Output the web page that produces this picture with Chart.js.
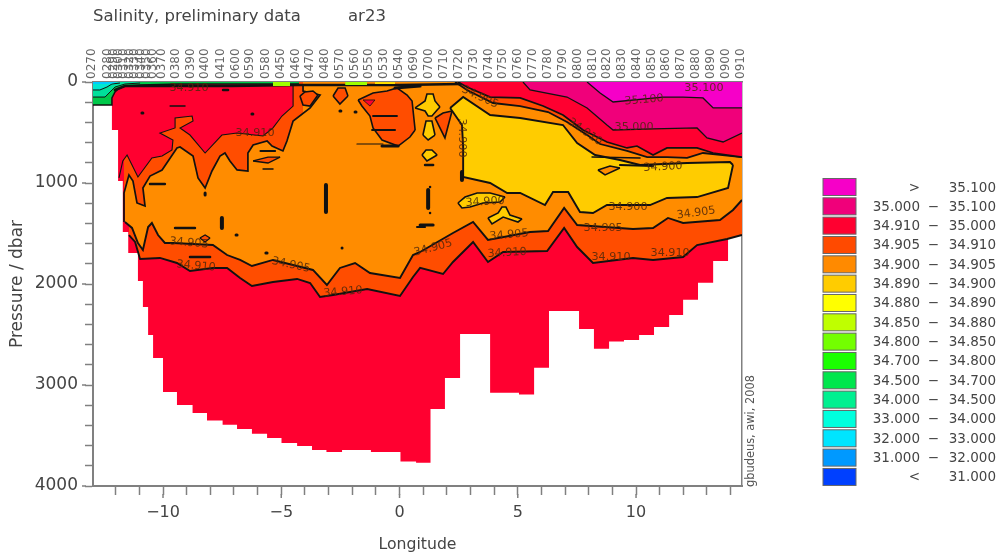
<!DOCTYPE html>
<html><head><meta charset="utf-8">
<style>html,body{margin:0;padding:0;background:#fff}#w{width:999px;height:554px}canvas{filter:blur(.45px)}</style>
<script src="https://cdn.jsdelivr.net/npm/chart.js@4/dist/chart.umd.min.js"></script>
</head><body><div id="w"><canvas id="c"></canvas></div>
<script>
// Station labels along the top axis
const stationIds=['0270','0280','0290','0300','0310','0320','0330','0340','0350','0360','0370','0380','0390','0400','0410','0600','0590','0580','0450','0460','0470','0480','0570','0560','0550','0530','0540','0690','0700','0710','0720','0730','0740','0750','0760','0770','0780','0790','0800','0810','0820','0830','0840','0850','0860','0870','0880','0890','0900','0910'];
const stationLon=[-12.96,-12.28,-12.03,-11.82,-11.61,-11.35,-11.14,-10.89,-10.63,-10.38,-10.00,-9.41,-8.77,-8.18,-7.51,-6.87,-6.28,-5.60,-4.97,-4.33,-3.74,-3.11,-2.47,-1.84,-1.25,-0.61,0.02,0.66,1.29,1.92,2.56,3.19,3.83,4.42,5.05,5.69,6.32,6.96,7.59,8.22,8.82,9.45,10.08,10.72,11.31,11.94,12.58,13.21,13.85,14.48];
// Sea floor (stepped)
const bottomLon=[-12.96,-12.16,-11.90,-11.70,-11.47,-11.06,-10.85,-10.63,-10.42,-10.00,-9.41,-8.75,-8.14,-7.48,-6.87,-6.24,-5.60,-4.99,-4.33,-3.70,-3.09,-2.43,-1.21,0.04,0.70,1.31,1.92,2.56,3.83,5.05,5.69,6.32,7.59,8.22,8.86,9.49,10.13,10.76,11.40,11.99,12.62,13.26,13.89,14.48];
const bottomP=[228,475,980,1485,1693,1970,2228,2505,2732,3069,3198,3277,3351,3393,3435,3482,3524,3574,3604,3643,3663,3643,3663,3757,3769,3237,2930,2495,3076,3094,2828,2267,2445,2640,2569,2554,2505,2425,2307,2156,1987,1772,1400,1400];
// 34.910 lower isoline
const iso910Lon=[-11.44,-11.18,-10.97,-10.13,-9.41,-8.86,-7.89,-7.29,-6.74,-6.24,-5.35,-4.33,-3.78,-3.36,-2.81,-1.37,0.02,0.57,0.87,1.84,2.26,3.11,3.74,4.38,6.24,6.96,7.51,8.18,9.87,10.72,11.99,12.58,13.85,14.48];
const iso910P=[1515,1584,1752,1742,1792,1871,1841,1841,1940,2020,1980,1950,1990,2129,2109,2049,2119,1931,1841,1901,1782,1584,1782,1683,1673,1445,1634,1792,1742,1762,1733,1614,1554,1515];
// 34.905 lower isoline
const iso905Lon=[-11.61,-11.31,-11.06,-10.85,-10.63,-10.47,-10.21,-9.92,-9.58,-7.89,-7.29,-6.74,-6.24,-5.35,-4.50,-3.66,-3.07,-2.52,-1.88,-1.25,0.02,0.57,0.87,2.26,3.11,3.74,5.52,6.28,6.96,7.51,9.87,10.72,11.35,11.99,13.55,14.10,14.48];
const iso905P=[1386,1445,1594,1663,1436,1396,1515,1594,1594,1614,1713,1762,1822,1762,1812,1861,2010,1841,1792,1891,1940,1713,1683,1495,1386,1564,1485,1475,1247,1416,1455,1445,1346,1396,1366,1267,1168];
// Upper-left dark orange and red patches
const leftOrangeLon=[-11.65,-11.65,-11.44,-11.27,-11.10,-10.76,-10.85,-10.55,-10.04,-9.41,-9.28,-8.73,-8.52,-8.22,-7.93,-7.59,-7.38,-7.17,-6.87,-6.41,-6.41,-6.19,-5.60,-5.39,-4.93,-4.76,-4.50,-3.78,-3.36,-4.08,-4.08];
const leftOrangeP=[1386,1099,921,980,1198,1228,1049,931,871,653,644,733,950,1049,881,733,703,782,871,881,703,624,584,634,683,584,386,257,129,89,20];
const leftRedLon=[-11.86,-11.70,-11.52,-11.06,-10.47,-10.04,-9.62,-9.58,-10.13,-9.49,-9.49,-8.77,-8.73,-9.28,-8.86,-8.22,-7.51,-6.87,-5.77,-5.35,-4.97,-4.50,-4.50,-4.50];
const leftRedP=[950,782,723,941,752,733,673,574,505,455,356,337,386,455,525,703,525,505,535,455,337,238,79,0];
// Right-hand upper bands
const bandOrangeLon=[2.35,2.85,3.95,5.10,6.28,7.08,7.93,8.48,9.62,10.47,11.31,12.16,12.83,14.48];
const bandOrangeP=[0,79,208,238,297,396,525,614,683,743,743,752,703,743];
const bandRedLon=[2.47,2.85,3.83,5.10,6.07,6.91,7.76,8.77,9.62,10.04,10.72,11.31,12.58,13.26,14.48];
const bandRedP=[0,50,149,158,238,327,475,594,653,634,723,653,653,703,743];
const iso35000Lon=[5.22,5.52,7.08,7.93,8.77,9.03,10.72,12.58,13.00,13.68,14.48];
const iso35000P=[0,79,149,257,426,475,465,455,554,594,505];
const iso35100Lon=[7.93,8.48,9.03,11.14,11.99,12.83,13.26,14.48];
const iso35100P=[0,109,198,149,149,158,257,257];
// Yellow body
const bodyUpLon=[2.14,2.69,3.83,5.10,6.91,7.51,8.27,9.32,10.17,12.16,13.97,14.10];
const bodyUpP=[257,149,327,356,426,604,723,772,822,802,792,822];
const bodyLoLon=[2.14,2.64,2.69,2.69,3.83,4.55,5.10,6.15,6.49,7.13,7.63,8.18,8.77,10.59,11.31,12.58,13.89,14.10];
const bodyLoP=[257,426,644,941,1000,1099,1099,1218,1089,1089,1287,1297,1218,1218,1148,1139,1049,822];
// Surface wedge at the left
const wedgeGreenLon=[-12.96,-12.16,-12.16,-12.03,-11.90,-11.61,-10.97,-9.36,-7.16,-4.25];
const wedgeGreenP=[228,228,158,99,69,40,30,20,20,20];
const wedgeSeaLon=[-12.96,-12.45,-12.24,-12.03,-11.61,-10.97];
const wedgeSeaP=[149,149,99,50,20,10];
const wedgeTealLon=[-12.96,-12.67,-12.37,-12.16,-11.82];
const wedgeTealP=[79,79,50,20,10];
const wedgeSkyLon=[-12.96,-12.45,-12.03];
const wedgeSkyP=[20,20,10];
const surfaceLon=[-12.03,-11.61,-9.36,-7.16,-4.25,-2.52,0.02,2.56];
const surfaceP=[79,40,40,40,30,30,30,20];
const limeALon=[-5.35,-4.63],limeAP=[40,40];
const limeBLon=[-2.30,-1.37],limeBP=[30,30];
const goldLon=[-1.04,-0.19],goldP=[20,20];
// Islands: upper and lower edges
const p1UpLon=[-4.21,-4.00,-3.66,-3.45],p1UpP=[139,99,89,129],p1LoLon=[-4.21,-4.08,-3.78,-3.45],p1LoP=[139,228,238,129];
const p2UpLon=[-2.81,-2.60,-2.30,-2.18],p2UpP=[139,59,59,139],p2LoLon=[-2.81,-2.52,-2.18],p2LoP=[139,218,139];
const blobUpLon=[-1.75,-1.12,-0.53,-0.11,0.32,0.53,0.66],blobUpP=[178,109,89,59,129,188,475];
const blobLoLon=[-1.75,-1.59,-1.25,-1.12,-0.74,-0.06,0.44,0.66],blobLoP=[178,238,337,455,574,634,545,475];
const blobRedUpLon=[-1.54,-1.04],blobRedUpP=[178,178],blobRedLoLon=[-1.54,-1.25,-1.04],blobRedLoP=[178,238,178];
const lensUpLon=[-6.19,-5.56,-5.05],lensUpP=[782,743,743],lensLoLon=[-6.19,-5.56,-5.05],lensLoP=[782,802,743];
const ringUpLon=[-8.44,-8.22,-8.01],ringUpP=[1544,1515,1544],ringLoLon=[-8.44,-8.22,-8.01],ringLoP=[1544,1584,1544];
const y1UpLon=[0.66,1.08,1.16,1.42,1.50,1.71],y1UpP=[257,188,119,119,188,248],y1LoLon=[0.66,1.08,1.21,1.37,1.59,1.71],y1LoP=[257,287,337,337,277,248];
const y2UpLon=[0.99,1.12,1.37,1.50],y2UpP=[525,386,386,525],y2LoLon=[0.99,1.21,1.50],y2LoP=[525,574,525];
const y3UpLon=[0.95,1.12,1.37,1.59],y3UpP=[723,673,673,723],y3LoLon=[0.95,1.16,1.59],y3LoP=[723,782,723];
const coneUpLon=[1.50,1.84,2.22],coneUpP=[356,307,287],coneLoLon=[1.50,1.92,2.22],coneLoP=[356,554,287];
const y4UpLon=[2.47,2.77,3.28,3.83,4.46],y4UpP=[1198,1139,1099,1099,1139],y4LoLon=[2.47,2.64,2.98,3.53,4.25,4.46],y4LoP=[1198,1247,1238,1198,1188,1139];
const y5UpLon=[3.74,4.17,4.33,4.50,4.67,5.18],y5UpP=[1346,1297,1238,1238,1317,1356],y5LoLon=[3.74,3.91,4.38,5.01,5.18],y5LoP=[1346,1406,1337,1386,1356];
const o1UpLon=[8.39,8.90,9.32],o1UpP=[871,832,852],o1LoLon=[8.39,8.69,9.32],o1LoP=[871,920,852];
// Short black contour fragments
const dashLonA=[-9.49,-8.86,-7.51,-6.91,-5.65,-2.43,0.74,-3.11,-10.89,-6.24,-9.70,-7.46,-1.88,-1.12,-1.16,-0.74,-1.80,1.21,0.87,1.29,1.29,8.14,9.32,-2.52,2.64,1.08,-0.19,-10.55,-8.22,-5.88,-5.77];
const dashPA=[1445,1733,1346,1515,1693,1643,1436,1020,307,317,238,79,297,337,475,634,614,1069,1416,1040,1297,743,822,287,891,822,59,1010,1099,683,861];
const dashLonB=[-8.65,-8.01,-7.51,-6.87,-5.60,-2.39,1.08,-3.11,-10.85,-6.20,-9.07,-7.25,-1.84,-0.11,-0.19,-0.06,-0.70,1.21,1.42,1.33,1.33,10.17,10.72,-2.48,2.64,1.42,0.87,-9.92,-8.22,-5.26,-5.35];
const dashPB=[1445,1733,1445,1515,1693,1643,1436,1287,307,317,238,79,297,337,475,634,614,1247,1416,1040,1297,752,832,287,970,822,40,1010,1119,683,861];
const dashW=[2.5,2.5,4,3,3,3,2,4,3,3,1.5,2.5,3,2,2,3,1.2,4,3,2.5,2.5,1.5,2,3,4,2.5,3,2.5,3,2,1.5];
// Contour labels
const labelText=['34.910','34.910','34.910','34.905','34.910','34.905','34.910','34.905','34.905','34.905','34.910','34.910','34.905','34.900','34.900','34.900','34.900','34.905','34.910','35.000','35.100','35.100'];
const labelLon=[-8.90,-6.11,-8.60,-4.59,-2.39,1.42,4.55,4.63,8.61,-8.90,8.94,11.44,12.54,9.66,11.14,2.64,3.62,3.40,7.84,9.92,10.34,12.87];
const labelP=[59,505,1822,1812,2079,1643,1693,1515,1445,1594,1733,1693,1297,1238,842,554,1188,149,495,446,178,59];
const labelRot=[0,0,5,12,-5,-15,-3,-5,0,5,0,0,-8,0,-3,90,-3,25,35,0,-5,0];
// Legend
const legendColors=['#f600c8','#f0007a','#ff0030','#ff4a00','#ff8a00','#ffcc00','#ffff00','#bfff00','#73ff00','#1aff00','#00e64d','#00f090','#00ffdd','#00e5ff','#0099ff','#0040ff'];
const legendLow=['>','35.000','34.910','34.905','34.900','34.890','34.880','34.850','34.800','34.700','34.500','34.000','33.000','32.000','31.000','<'];
const legendHigh=['35.100','35.100','35.000','34.910','34.905','34.900','34.890','34.880','34.850','34.800','34.700','34.500','34.000','33.000','32.000','31.000'];

const RED='#ff0030',DKO='#ff4d00',ORG='#ff8c00',YEL='#ffcc00',PNK='#f0007a',MAG='#f600c8';
const pts=(xs,ys)=>xs.map((x,i)=>({x,y:ys[i]}));
const datasets=[];
const base=()=>({showLine:true,pointRadius:0,pointHoverRadius:0,tension:0,xAxisID:'x',yAxisID:'y',order:10000-datasets.length});
function toTop(xs,ys,color,w=1.7,extra={}){datasets.push({...base(),data:pts(xs,ys),fill:'end',backgroundColor:color,borderColor:w?'#111':'transparent',borderWidth:w,...extra});}
function between(ux,uy,lx,ly,color,w=1.6){
  datasets.push({...base(),data:pts(ux,uy),fill:'+1',backgroundColor:color,borderColor:'#111',borderWidth:w});
  datasets.push({...base(),data:pts(lx,ly),fill:false,borderColor:'#111',borderWidth:w});
}
function stroke(xs,ys,w){datasets.push({...base(),data:pts(xs,ys),fill:false,borderColor:'#111',borderWidth:w,borderCapStyle:'round'});}

toTop(bottomLon,bottomP,RED,0,{stepped:'before'});
toTop(iso910Lon,iso910P,DKO,1.9);
toTop(iso905Lon,iso905P,ORG,1.9);
toTop(leftOrangeLon,leftOrangeP,DKO,1.7);
toTop(leftRedLon,leftRedP,RED,1.1);
toTop(bandOrangeLon,bandOrangeP,DKO,1.8);
between(bodyUpLon,bodyUpP,bodyLoLon,bodyLoP,YEL,1.9);
toTop(bandRedLon,bandRedP,RED,1.7);
toTop(iso35000Lon,iso35000P,PNK,1.3);
toTop(iso35100Lon,iso35100P,MAG,1.3);
between(p1UpLon,p1UpP,p1LoLon,p1LoP,DKO);
between(p2UpLon,p2UpP,p2LoLon,p2LoP,DKO);
between(blobUpLon,blobUpP,blobLoLon,blobLoP,DKO);
between(blobRedUpLon,blobRedUpP,blobRedLoLon,blobRedLoP,RED,.8);
between(lensUpLon,lensUpP,lensLoLon,lensLoP,DKO,1.3);
between(ringUpLon,ringUpP,ringLoLon,ringLoP,DKO,1.3);
between(y1UpLon,y1UpP,y1LoLon,y1LoP,YEL);
between(y2UpLon,y2UpP,y2LoLon,y2LoP,YEL);
between(y3UpLon,y3UpP,y3LoLon,y3LoP,YEL);
between(coneUpLon,coneUpP,coneLoLon,coneLoP,DKO);
between(y4UpLon,y4UpP,y4LoLon,y4LoP,YEL);
between(y5UpLon,y5UpP,y5LoLon,y5LoP,YEL);
between(o1UpLon,o1UpP,o1LoLon,o1LoP,ORG);
dashLonA.forEach((x,i)=>stroke([x,dashLonB[i]],[dashPA[i],dashPB[i]],dashW[i]));
toTop(wedgeGreenLon,wedgeGreenP,'#00c84a',1.5);
toTop(wedgeSeaLon,wedgeSeaP,'#00e09a',1);
toTop(wedgeTealLon,wedgeTealP,'#00e8d0',1);
toTop(wedgeSkyLon,wedgeSkyP,'#00ccff',0);
stroke(surfaceLon,surfaceP,2.6);
toTop(limeALon,limeAP,'#9fff00',0);
toTop(limeBLon,limeBP,'#9fff00',0);
toTop(goldLon,goldP,'#ffdd00',0);

const AXIS='#808080',TXT='#444';
const FONT='"DejaVu Sans"';
const decor={id:'decor',afterDraw(ch){
  const c=ch.ctx,X=ch.scales.x,Y=ch.scales.y;
  c.save();
  c.strokeStyle=AXIS;c.lineWidth=1.5;
  for(let v=0;v<=4000;v+=1000){const p=Y.getPixelForValue(v);c.beginPath();c.moveTo(82,p);c.lineTo(86,p);c.stroke();}
  for(let v=-10;v<=10;v+=5){const p=X.getPixelForValue(v);c.beginPath();c.moveTo(p,494);c.lineTo(p,498);c.stroke();}
  c.fillStyle='rgba(80,40,10,.85)';c.font='11.2px '+FONT;c.textAlign='center';c.textBaseline='middle';
  labelText.forEach((t,i)=>{c.save();c.translate(X.getPixelForValue(labelLon[i]),Y.getPixelForValue(labelP[i]));c.rotate(labelRot[i]*Math.PI/180);c.fillText(t,0,0);c.restore();});
  c.fillStyle=TXT;c.textAlign='left';c.font='16.5px '+FONT;
  c.fillText('Salinity, preliminary data',93,17);c.fillText('ar23',348,17);
  c.save();c.translate(751,487);c.rotate(-Math.PI/2);c.font='11.4px '+FONT;c.fillStyle='#555';c.textAlign='left';c.fillText('gbudeus, awi, 2008',0,0);c.restore();
  c.font='13.5px '+FONT;
  legendColors.forEach((col,i)=>{
    const top=178.5+i*19.33;
    c.fillStyle=col;c.fillRect(823,top,33,17);
    c.strokeStyle='#666';c.lineWidth=1;c.strokeRect(823,top,33,17);
    c.fillStyle=TXT;c.textAlign='right';
    const cy=top+9.5;
    if(legendLow[i]==='>'||legendLow[i]==='<'){c.fillText(legendLow[i],920,cy);}
    else{c.fillText(legendLow[i],920,cy);c.fillText('−',939,cy);}
    c.fillText(legendHigh[i],996,cy);
  });
  c.restore();
}};
new Chart(document.getElementById('c'),{type:'scatter',data:{datasets},plugins:[decor],options:{
  responsive:true,maintainAspectRatio:false,animation:false,events:[],
  layout:{padding:0},
  plugins:{legend:{display:false},tooltip:{enabled:false},title:{display:false}},
  scales:{
    x:{type:'linear',position:'bottom',min:-12.96,max:14.48,afterFit:s=>{s.height=68;},
      border:{color:AXIS,width:2},grid:{drawOnChartArea:false,color:AXIS,tickColor:AXIS,tickLength:9,tickWidth:1.5},
      ticks:{stepSize:1,includeBounds:false,autoSkip:false,maxRotation:0,minRotation:0,color:TXT,font:{family:'DejaVu Sans',size:16},padding:8,
        callback:v=>(v%5===0?String(v).replace('-','−'):'')},
      title:{display:true,text:'Longitude',color:TXT,font:{family:'DejaVu Sans',size:15.7},padding:{top:0,bottom:0}}},
    xt:{type:'linear',position:'top',min:-12.96,max:14.48,afterFit:s=>{s.height=82;},
      afterBuildTicks:a=>{a.ticks=stationLon.map(value=>({value}));},
      border:{color:AXIS,width:1.5},grid:{drawOnChartArea:false,drawTicks:false},
      ticks:{autoSkip:false,minRotation:90,maxRotation:90,color:'#666',font:{family:'DejaVu Sans',size:12},padding:3,labelOffset:13.5,
        callback:(v,i)=>stationIds[i]}},
    y:{type:'linear',position:'left',reverse:true,min:0,max:4000,afterFit:s=>{s.width=93;},
      border:{color:AXIS,width:2},grid:{drawOnChartArea:false,tickColor:AXIS,tickLength:8,tickWidth:1.5},
      ticks:{stepSize:200,autoSkip:false,color:TXT,font:{family:'DejaVu Sans',size:17},padding:7,
        callback:v=>(v%1000===0?String(v):'')},
      title:{display:true,text:'Pressure / dbar',color:TXT,font:{family:'DejaVu Sans',size:17},padding:{top:7,bottom:0}}},
    yr:{type:'linear',position:'right',min:0,max:4000,afterFit:s=>{s.width=257;},
      border:{color:AXIS,width:1.5},grid:{drawOnChartArea:false,drawTicks:false},ticks:{display:false}}
  }
}});
</script></body></html>
